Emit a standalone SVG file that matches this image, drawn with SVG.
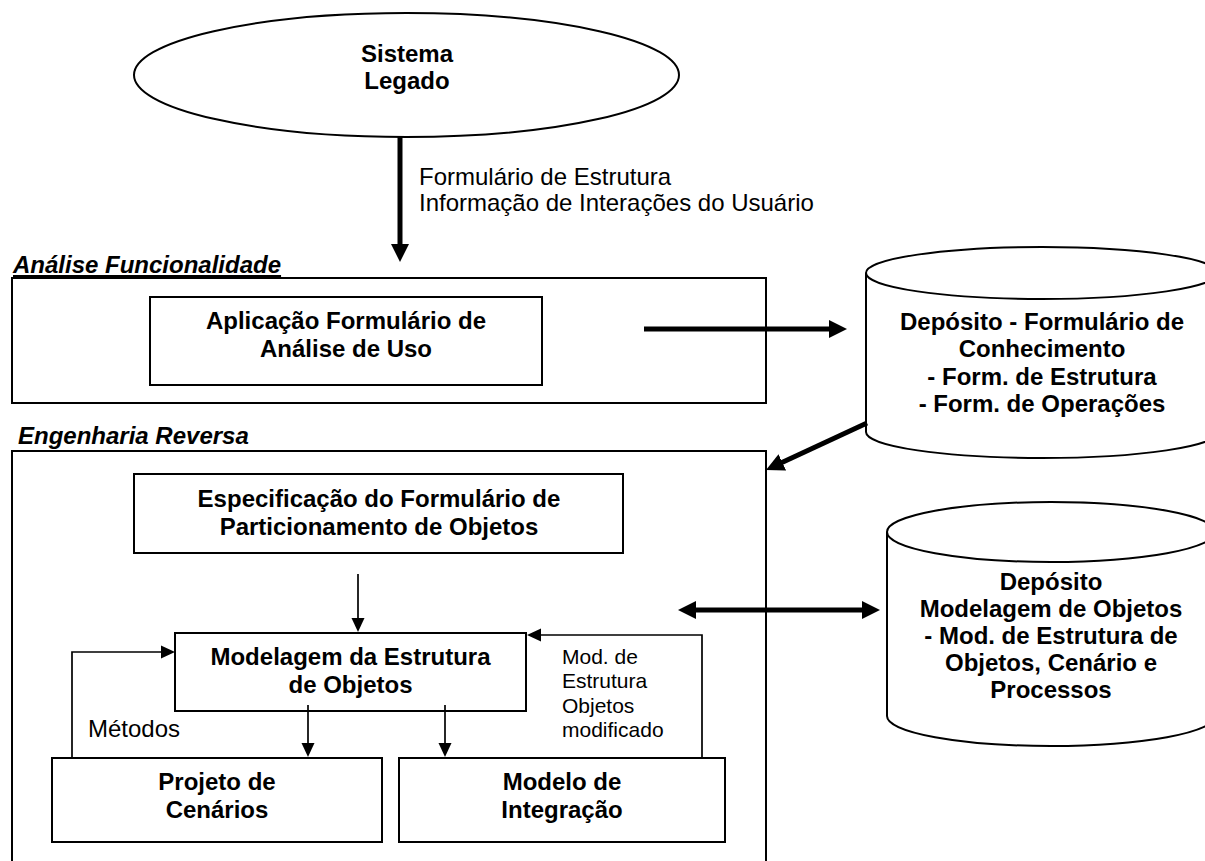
<svg xmlns="http://www.w3.org/2000/svg" width="1205" height="861" viewBox="0 0 1205 861">
<style>
.shape{fill:#fff;stroke:#000;stroke-width:2}
.frame{fill:none;stroke:#000;stroke-width:2}
.b{font-family:"Liberation Sans",Arial,sans-serif;font-weight:bold;font-size:24px;fill:#000;text-anchor:middle}
.r{font-family:"Liberation Sans",Arial,sans-serif;font-size:24px;fill:#000}
.rs{font-family:"Liberation Sans",Arial,sans-serif;font-size:21px;fill:#000}
.title{font-family:"Liberation Sans",Arial,sans-serif;font-weight:bold;font-style:italic;font-size:24px;fill:#000}
.thick{fill:none;stroke:#000;stroke-width:5}
.thin{fill:none;stroke:#000;stroke-width:1.7}
</style>
<defs>
<marker id="big" markerUnits="userSpaceOnUse" markerWidth="18" markerHeight="18" refX="1" refY="9" orient="auto-start-reverse" viewBox="0 0 18 18">
<path d="M0,0 L18,9 L0,18 z" fill="#000"/>
</marker>
<marker id="small" markerUnits="userSpaceOnUse" markerWidth="14" markerHeight="14" refX="1" refY="7" orient="auto" viewBox="0 0 14 14">
<path d="M0,0.5 L14,7 L0,13.5 z" fill="#000"/>
</marker>
</defs>

<g id="sistema-legado">
<ellipse class="shape" cx="406.5" cy="75" rx="272.5" ry="62"/>
<text class="b" x="407" y="62">Sistema</text>
<text class="b" x="407" y="89">Legado</text>
</g>

<g id="analise-funcionalidade">
<text class="title" x="13" y="273" text-decoration="underline">Análise Funcionalidade</text>
<rect class="frame" x="12" y="278" width="754" height="125"/>
</g>

<g id="aplicacao">
<rect class="shape" x="150" y="297" width="392" height="88"/>
<text class="b" x="346" y="329">Aplicação Formulário de</text>
<text class="b" x="346" y="357">Análise de Uso</text>
</g>

<g id="deposito-conhecimento">
<path class="shape" d="M866,273 L866,432 A176,26 0 0 0 1218,432 L1218,273"/>
<ellipse class="shape" cx="1042" cy="273" rx="176" ry="26"/>
<text class="b" x="1042" y="330">Depósito - Formulário de</text>
<text class="b" x="1042" y="357">Conhecimento</text>
<text class="b" x="1042" y="385">- Form. de Estrutura</text>
<text class="b" x="1042" y="412">- Form. de Operações</text>
</g>

<g id="engenharia-reversa">
<text class="title" x="18" y="444">Engenharia Reversa</text>
<rect class="frame" x="12" y="451" width="754" height="420"/>
</g>

<g id="especificacao">
<rect class="shape" x="134" y="474" width="489" height="79"/>
<text class="b" x="379" y="507">Especificação do Formulário de</text>
<text class="b" x="379" y="535">Particionamento de Objetos</text>
</g>

<g id="modelagem">
<rect class="shape" x="175" y="633" width="351" height="78"/>
<text class="b" x="350.5" y="665">Modelagem da Estrutura</text>
<text class="b" x="350.5" y="693">de Objetos</text>
</g>

<g id="projeto-cenarios">
<rect class="shape" x="52" y="758" width="330" height="84"/>
<text class="b" x="217" y="790">Projeto de</text>
<text class="b" x="217" y="818">Cenários</text>
</g>

<g id="modelo-integracao">
<rect class="shape" x="399" y="758" width="326" height="84"/>
<text class="b" x="562" y="790">Modelo de</text>
<text class="b" x="562" y="818">Integração</text>
</g>

<g id="deposito-modelagem">
<path class="shape" d="M887,532 L887,716 A164,30 0 0 0 1215,716 L1215,532"/>
<ellipse class="shape" cx="1051" cy="532" rx="164" ry="30"/>
<text class="b" x="1051" y="590">Depósito</text>
<text class="b" x="1051" y="617">Modelagem de Objetos</text>
<text class="b" x="1051" y="644">- Mod. de Estrutura de</text>
<text class="b" x="1051" y="671">Objetos, Cenário e</text>
<text class="b" x="1051" y="698">Processos</text>
</g>

<g id="connectors">
<line class="thick" x1="400" y1="137" x2="400" y2="245" marker-end="url(#big)"/>
<text class="r" x="419" y="185">Formulário de Estrutura</text>
<text class="r" x="419" y="211">Informação de Interações do Usuário</text>
<line class="thick" x1="644" y1="329" x2="830" y2="329" marker-end="url(#big)"/>
<line class="thick" x1="867" y1="423" x2="781.4" y2="462.8" marker-end="url(#big)"/>
<line class="thick" x1="695" y1="610" x2="863" y2="610" marker-start="url(#big)" marker-end="url(#big)"/>
<line class="thin" x1="358" y1="574" x2="358" y2="619" marker-end="url(#small)"/>
<line class="thin" x1="308" y1="705" x2="308" y2="744" marker-end="url(#small)"/>
<line class="thin" x1="445" y1="705" x2="445" y2="744" marker-end="url(#small)"/>
<polyline class="thin" points="72,758 72,652 162,652" marker-end="url(#small)"/>
<text class="r" x="88" y="737">Métodos</text>
<polyline class="thin" points="702,758 702,635 540,635" marker-end="url(#small)"/>
<text class="rs" x="562" y="664">Mod. de</text>
<text class="rs" x="562" y="688">Estrutura</text>
<text class="rs" x="562" y="713">Objetos</text>
<text class="rs" x="562" y="737">modificado</text>
</g>
</svg>
